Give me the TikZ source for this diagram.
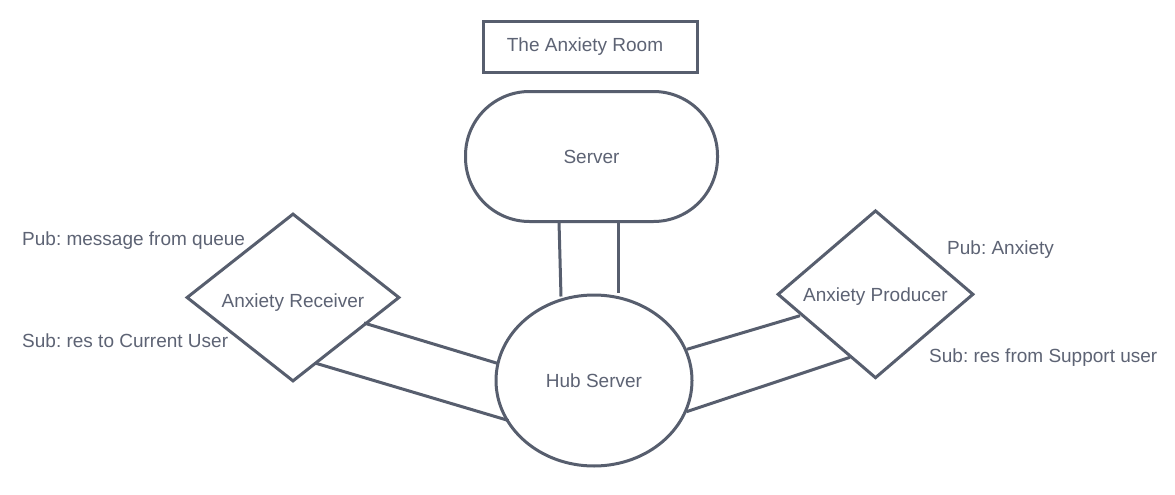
\documentclass[tikz,border=0pt]{standalone}
\usepackage{fontspec}
\setmainfont{Liberation Sans}
\usetikzlibrary{shapes.geometric}
\definecolor{ink}{HTML}{575E6E}
\definecolor{txt}{HTML}{5D6374}
\frenchspacing
\tikzset{
  shapeline/.style={draw=ink, line width=3pt, inner sep=0pt, text=txt,
    font=\fontsize{19}{23}\selectfont\frenchspacing},
  wire/.style={draw=ink, line width=3pt},
  lbl/.style={anchor=base west, inner sep=0pt, text=txt,
    font=\fontsize{19}{23}\selectfont\frenchspacing},
  dmd/.style={shapeline, diamond, aspect=1.27, text depth=0pt}
}
\begin{document}
\begin{tikzpicture}[x=1pt, y=-1pt]
\useasboundingbox (0,0) rectangle (1175,495);
\fill[white] (0,0) rectangle (1175,495);

\node[shapeline, rectangle, minimum width=214pt, minimum height=51pt] (title) at (590,47) {\hspace*{-10pt}The Anxiety Room};
\node[shapeline, rectangle, rounded corners=64pt, minimum width=252pt, minimum height=130pt] (server) at (591.5,156.5) {Server};
\node[shapeline, ellipse, minimum width=196pt, minimum height=171pt] (hub) at (594,380.5) {Hub Server};
\node[dmd, minimum width=213pt, minimum height=168pt, text height=19.4pt] (recv) at (293,297.5) {Anxiety Receiver};
\node[dmd, minimum width=196pt, minimum height=168pt, text height=13.4pt] (prod) at (875.5,294.3) {Anxiety Producer};

\node[lbl] (pubq) at (22,245) {Pub: message from queue};
\node[lbl] (subc) at (22,347.7) {Sub: res to Current User};
\node[lbl] (puba) at (947,254) {Pub: Anxiety};
\node[lbl] (subs) at (929,362.7) {Sub: res from Support user};

% server -- hub
\coordinate (s1) at (559,221.5);
\coordinate (h1) at (561,296.5);
\coordinate (s2) at (618,221.5);
\coordinate (h2) at (618,293);
\draw[wire] (s1) -- (h1);
\draw[wire] (s2) -- (h2);

% receiver -- hub
\coordinate (r1) at (364,323);
\coordinate (h3) at (498,363.5);
\coordinate (r2) at (316,363.3);
\coordinate (h4) at (508.5,420.5);
\draw[wire] (r1) -- (h3);
\draw[wire] (r2) -- (h4);

% producer -- hub
\coordinate (p1) at (800,315.7);
\coordinate (h5) at (687,349.3);
\coordinate (p2) at (850,357.3);
\coordinate (h6) at (686.5,411.7);
\draw[wire] (p1) -- (h5);
\draw[wire] (p2) -- (h6);
\end{tikzpicture}
\end{document}
